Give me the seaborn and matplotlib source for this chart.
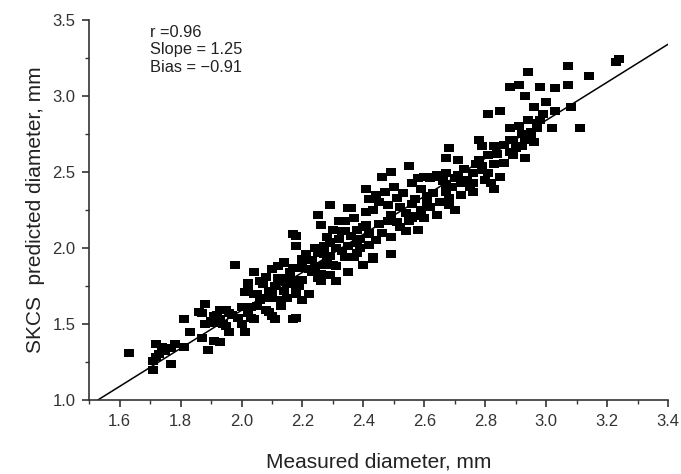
import numpy as np
import pandas as pd
import matplotlib
matplotlib.use("Agg")
import matplotlib.pyplot as plt
from matplotlib.path import Path
from matplotlib.ticker import MultipleLocator
import seaborn as sns

# measured vs SKCS predicted diameter (mm)
measured = [
    1.63, 1.71, 1.71, 1.72, 1.73, 1.74, 1.72, 1.77, 1.78, 1.77, 1.75, 1.81, 1.81, 1.83,
    1.87, 1.88, 1.89, 1.87, 1.86, 1.88, 1.91, 1.91, 1.93, 1.93, 1.96, 1.93, 1.96, 1.95,
    1.98, 1.97, 1.91, 1.94, 1.95, 1.90, 1.92, 1.99,
    2.01, 2.00, 2.02, 2.04, 2.03, 2.02, 2.04, 2.05, 2.07, 2.07, 2.08, 2.10, 2.11, 2.10,
    2.14, 2.12, 2.10, 2.13, 2.14, 2.15, 2.17, 2.18, 2.17, 2.18, 2.20, 2.20, 2.00, 2.05,
    2.13, 2.02, 2.09, 2.18, 2.03, 2.10, 2.15, 2.06, 2.01, 2.04, 2.09, 2.18, 2.02, 2.15,
    2.18, 2.08, 2.12, 2.17, 2.12, 2.14, 2.17, 2.16, 2.19, 2.11, 2.06,
    2.22, 2.22, 2.25, 2.26, 2.25, 2.28, 2.29, 2.30, 2.41, 2.42, 2.29, 2.35, 2.25, 2.32,
    2.37, 2.41, 2.26, 2.30, 2.34, 2.41, 2.18, 2.42, 2.29, 2.27, 2.31, 2.38, 2.42, 2.29,
    2.34, 2.38, 2.43, 2.20, 2.23, 2.27, 2.31, 2.40, 2.20, 2.23, 2.29, 2.35, 2.20, 2.26,
    2.31, 2.35, 2.43, 2.49, 2.37, 2.34, 2.40, 2.33, 2.36, 2.43, 2.45, 2.24, 2.27, 2.32,
    2.36, 2.39, 2.44, 2.46, 2.42, 2.33, 2.38, 2.24, 2.28, 2.39, 2.21,
    2.45, 2.51, 2.55, 2.60, 2.46, 2.54, 2.58, 2.49, 2.49, 2.54, 2.59, 2.62, 2.52, 2.56,
    2.65, 2.70, 2.47, 2.51, 2.63, 2.61, 2.67, 2.49, 2.46, 2.58, 2.56, 2.64, 2.67, 2.62,
    2.55, 2.67, 2.60, 2.63, 2.52, 2.57, 2.64, 2.68, 2.48, 2.53, 2.57, 2.68, 2.44, 2.50,
    2.59, 2.69, 2.66, 2.70, 2.56, 2.48, 2.61,
    2.71, 2.76, 2.79, 2.72, 2.76, 2.81, 2.76, 2.83, 2.71, 2.67, 2.68, 2.78, 2.81, 2.83,
    2.78, 2.79, 2.83, 2.85, 2.79, 2.88, 2.89, 2.88, 2.89, 2.85, 2.81, 2.88, 2.88, 2.91,
    2.74, 2.80, 2.73, 2.77, 2.86, 2.84, 2.86, 2.90, 2.75, 2.82, 2.72,
    2.94, 3.07, 3.24, 3.23, 3.14, 2.98, 3.03, 3.07, 2.93, 3.00, 2.96, 3.03, 3.08, 3.11,
    3.02, 2.94, 2.98, 2.97, 2.95, 2.92, 2.95, 2.93, 2.92, 2.93, 2.97, 2.99, 2.91, 2.96,
]
predicted = [
    1.31, 1.20, 1.26, 1.37, 1.30, 1.35, 1.28, 1.24, 1.37, 1.34, 1.32, 1.35, 1.53, 1.45,
    1.41, 1.63, 1.33, 1.57, 1.58, 1.50, 1.55, 1.39, 1.38, 1.53, 1.57, 1.59, 1.45, 1.49,
    1.89, 1.56, 1.51, 1.50, 1.59, 1.52, 1.56, 1.54,
    1.45, 1.50, 1.57, 1.53, 1.61, 1.73, 1.84, 1.70, 1.76, 1.67, 1.59, 1.55, 1.53, 1.86,
    1.90, 1.78, 1.72, 1.66, 1.72, 1.80, 1.53, 2.01, 1.76, 1.70, 1.92, 1.66, 1.61, 1.62,
    1.62, 1.58, 1.58, 1.54, 1.54, 1.67, 1.67, 1.66, 1.71, 1.70, 1.72, 1.71, 1.77, 1.77,
    1.79, 1.81, 1.80, 1.87, 1.88, 1.91, 2.09, 1.84, 1.75, 1.75, 1.78,
    1.70, 1.86, 1.80, 1.83, 1.97, 1.94, 2.03, 1.89, 2.39, 2.32, 2.28, 2.26, 2.22, 2.18,
    2.20, 2.24, 2.15, 2.12, 2.11, 2.15, 2.08, 2.09, 2.04, 2.01, 2.00, 2.03, 2.02, 1.95,
    1.94, 1.97, 1.94, 1.93, 1.92, 1.89, 1.88, 1.89, 1.87, 1.84, 1.82, 1.84, 1.79, 1.78,
    1.78, 2.01, 1.93, 1.96, 1.94, 2.18, 2.14, 2.11, 2.26, 2.25, 2.30, 1.88, 1.96, 2.06,
    2.08, 2.00, 2.05, 2.10, 2.10, 1.98, 2.12, 2.00, 2.07, 2.06, 1.96,
    2.16, 2.17, 2.18, 2.20, 2.10, 2.11, 2.12, 2.07, 2.22, 2.23, 2.25, 2.27, 2.27, 2.29,
    2.30, 2.25, 2.37, 2.33, 2.36, 2.34, 2.37, 2.50, 2.47, 2.46, 2.43, 2.48, 2.49, 2.46,
    2.54, 2.42, 2.47, 2.47, 2.14, 2.21, 2.22, 2.28, 2.28, 2.36, 2.32, 2.33, 2.35, 2.40,
    2.39, 2.40, 2.44, 2.46, 2.20, 2.18, 2.30,
    2.48, 2.49, 2.51, 2.43, 2.43, 2.49, 2.37, 2.39, 2.58, 2.59, 2.66, 2.58, 2.61, 2.55,
    2.71, 2.67, 2.67, 2.47, 2.54, 2.63, 2.61, 2.71, 2.71, 2.90, 2.88, 2.79, 3.06, 3.07,
    2.45, 2.45, 2.52, 2.55, 2.56, 2.62, 2.68, 2.66, 2.40, 2.43, 2.35,
    3.16, 3.20, 3.24, 3.22, 3.13, 3.06, 3.05, 3.07, 3.00, 2.96, 2.93, 2.90, 2.93, 2.79,
    2.79, 2.84, 2.84, 2.79, 2.76, 2.75, 2.72, 2.71, 2.67, 2.59, 2.82, 2.88, 2.80, 2.70,
]

r_value = 0.96
slope = 1.25
bias = -0.91
x_lim = (1.5, 3.4)
y_lim = (1.0, 3.5)

df = pd.DataFrame({"measured": measured, "predicted": predicted})

sns.set_style("ticks")
plt.rcParams["font.family"] = ["Liberation Sans", "DejaVu Sans"]

fig = plt.figure(figsize=(6.81, 4.74), dpi=100)
ax = fig.add_axes([0.131, 0.156, 0.850, 0.802])

# slightly wide rectangle marker, like the original
rect = Path([(-1.25, -1.0), (1.25, -1.0), (1.25, 1.0), (-1.25, 1.0), (-1.25, -1.0)],
            [Path.MOVETO, Path.LINETO, Path.LINETO, Path.LINETO, Path.CLOSEPOLY])
sns.scatterplot(data=df, x="measured", y="predicted", marker=rect, s=55,
                color="black", linewidth=0, ax=ax, zorder=3)

# regression line y = slope*x + bias, clipped to the axes box
x_start = (y_lim[0] - bias) / slope
line_x = np.array([x_start, x_lim[1]])
sns.lineplot(x=line_x, y=slope * line_x + bias, color="black", linewidth=1.1,
             ax=ax, zorder=2)

ax.set_xlim(*x_lim)
ax.set_ylim(*y_lim)
ax.xaxis.set_minor_locator(MultipleLocator(0.1))
ax.yaxis.set_major_locator(MultipleLocator(0.5))
ax.yaxis.set_minor_locator(MultipleLocator(0.25))
xt = np.arange(1.6, 3.41, 0.2)
ax.set_xticks(xt)
ax.set_xticklabels([f"{v:.1f}" for v in xt])
ax.set_yticklabels([f"{v:.1f}" for v in ax.get_yticks()])

sns.despine(ax=ax)
for sp in ("left", "bottom"):
    ax.spines[sp].set_color("#333333")
    ax.spines[sp].set_linewidth(1.2)
ax.tick_params(which="major", length=5, width=1.2, color="#333333",
               labelsize=12, labelcolor="#333333", pad=5)
ax.tick_params(which="minor", length=3, width=1.0, color="#333333")

ax.set_xlabel("Measured diameter, mm", fontsize=15, color="#222222", labelpad=17)
ax.set_ylabel("SKCS  predicted diameter, mm", fontsize=15, color="#222222", labelpad=5)

ax.text(0.105, 0.987, f"r =0.96\nSlope = {slope:.2f}\nBias = \u22120.91",
        transform=ax.transAxes, fontsize=11.8, color="#222222", va="top",
        linespacing=1.2)

fig.savefig("out.png", dpi=100, facecolor="white")
